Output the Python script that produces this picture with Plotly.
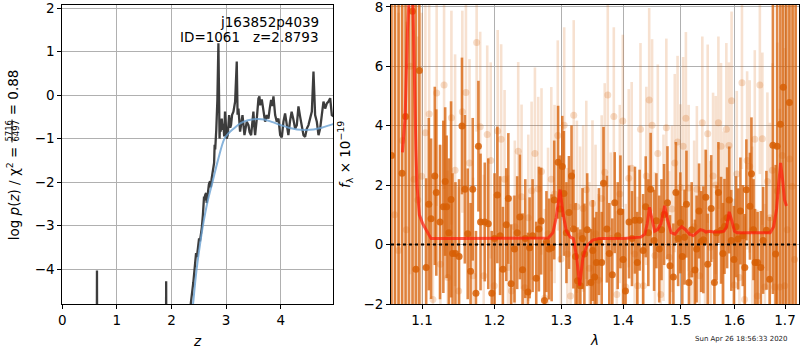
import plotly.graph_objects as go

FONT = "DejaVu Sans"

# ---------------- left panel: redshift probability ----------------
z_pz = [0.0, 0.628, 0.635, 0.642, 1.895, 1.902, 1.909, 2.30, 2.352, 2.40,
        2.43, 2.45, 2.465, 2.48, 2.505, 2.52, 2.535, 2.555, 2.575, 2.596,
        2.605, 2.615, 2.633, 2.645, 2.66, 2.685, 2.706, 2.72, 2.735, 2.76,
        2.78, 2.79, 2.80, 2.82, 2.84, 2.859, 2.87, 2.88, 2.89, 2.90,
        2.92, 2.935, 2.95, 2.965, 2.98, 2.995, 3.01, 3.03, 3.055, 3.075,
        3.09, 3.11, 3.134, 3.165, 3.195, 3.21, 3.226, 3.256, 3.28, 3.30,
        3.336, 3.36, 3.378, 3.409, 3.43, 3.458, 3.48, 3.50, 3.515, 3.531,
        3.562, 3.592, 3.61, 3.623, 3.653, 3.684, 3.714, 3.745, 3.775, 3.80,
        3.824, 3.845, 3.867, 3.898, 3.928, 3.959, 3.99, 4.02, 4.05, 4.08,
        4.11, 4.14, 4.17, 4.20, 4.23, 4.264, 4.295, 4.325, 4.356, 4.386,
        4.417, 4.447, 4.478, 4.508, 4.539, 4.57, 4.60, 4.63, 4.661, 4.692,
        4.722, 4.753, 4.783, 4.814, 4.845, 4.875, 4.906, 4.936, 4.967]
logp_pz = [-8, -8, -4.03, -8, -8, -4.28, -8, -8, -4.8, -4.3,
           -3.86, -3.63, -3.72, -3.55, -3.29, -3.36, -3.25, -3.05, -2.75, -2.33,
           -2.42, -2.30, -2.25, -2.48, -2.3, -2.05, -1.98, -2.12, -1.92, -1.72,
           -1.56, -1.14, -1.25, -0.8, -0.11, 1.19, -0.45, -1.0, -0.6, -0.84,
           -0.54, -0.8, -0.66, -0.95, -0.38, -0.7, -1.0, -0.92, -0.46, -0.75,
           -0.69, -0.45, -0.38, -0.15, 0.77, -0.45, -0.31, -0.84, -0.55, -0.46,
           -0.92, -0.7, -0.61, -0.69, -0.85, -0.92, -0.6, -0.38, -0.7, -0.92,
           -0.54, -0.08, -0.03, -0.23, -0.1, -0.38, -0.61, -0.46, -0.54, -0.3,
           -0.11, -0.25, -0.03, -0.46, -0.61, -0.54, -0.92, -0.97, -0.61, -0.42,
           -0.69, -0.92, -0.6, -0.38, -0.55, -0.77, -0.69, -0.26, -0.5, -0.73,
           -0.92, -0.96, -0.77, -0.69, -0.54, -0.38, 0.54, -0.46, -0.61, -0.92,
           -0.77, -0.46, -0.15, -0.31, -0.19, -0.15, -0.07, -0.46, -0.49]

z_fit = [2.30, 2.395, 2.46, 2.52, 2.575, 2.66, 2.75, 2.85, 2.97, 3.05,
         3.13, 3.26, 3.40, 3.55, 3.70, 3.85, 4.00, 4.15, 4.30, 4.45,
         4.60, 4.75, 4.90, 4.97]
logp_fit = [-6.2, -4.8, -4.0, -3.45, -3.0, -2.45, -2.0, -1.5, -1.0, -0.87,
            -0.78, -0.65, -0.58, -0.55, -0.56, -0.62, -0.69, -0.75, -0.79, -0.80,
            -0.79, -0.75, -0.69, -0.66]

# ---------------- right panel: grism spectrum ----------------
lam_a = [1.0605, 1.065, 1.0695, 1.074, 1.0785, 1.083, 1.0875, 1.092, 1.0965, 1.1055,
         1.109, 1.112, 1.117, 1.119, 1.124, 1.1285, 1.131, 1.133, 1.136, 1.139,
         1.141, 1.145, 1.150, 1.154, 1.158, 1.162, 1.166, 1.169, 1.1735, 1.177,
         1.180, 1.186, 1.191, 1.196, 1.200, 1.204, 1.208, 1.212, 1.217, 1.220,
         1.224, 1.229, 1.233, 1.237, 1.241, 1.245, 1.249, 1.2515, 1.256, 1.2615,
         1.2655, 1.269, 1.274, 1.277, 1.281, 1.285, 1.289, 1.295, 1.298, 1.3015,
         1.304, 1.308, 1.312, 1.316, 1.319, 1.3225, 1.3255, 1.330, 1.3335, 1.3365,
         1.341, 1.347, 1.350, 1.353, 1.356, 1.360, 1.3645, 1.3675, 1.373, 1.377,
         1.382, 1.386, 1.391, 1.3955, 1.400, 1.404, 1.410, 1.415, 1.420, 1.424,
         1.428, 1.434, 1.4385, 1.443, 1.447, 1.453, 1.457, 1.462, 1.466, 1.4705,
         1.4765, 1.481, 1.487, 1.4915, 1.4955, 1.4995, 1.503, 1.507, 1.5105, 1.515,
         1.520, 1.526, 1.529, 1.5335, 1.5375, 1.5415, 1.546, 1.5495, 1.556, 1.562,
         1.566, 1.5695, 1.5745, 1.578, 1.581, 1.586, 1.590, 1.594, 1.599, 1.603,
         1.607, 1.6115, 1.616, 1.620, 1.623, 1.630, 1.633, 1.637, 1.640, 1.645,
         1.6515, 1.656, 1.6625, 1.669, 1.6755, 1.681, 1.684, 1.6905, 1.6965, 1.7025,
         1.709, 1.7155, 1.722]
flux_a = [3.0, -3.0, 11.0, 2.4, 4.31, -4.0, 7.85, -0.83, 5.86, -0.77,
          1.36, 0.87, 2.31, 1.75, 0.76, 1.27, 2.12, 1.27, 0.4, 1.52,
          -0.3, -0.3, -0.4, 3.99, 1.86, 0.36, -0.9, 1.86, -1.64, 3.31,
          0.76, 0.76, 0.70, -1.64, 0.2, 1.67, 0.3, -0.83, 0.67, 1.55,
          -1.32, -0.15, 0.4, 0.93, -0.85, 0.2, -1.6, -0.11, 0.3, -1.13,
          0.52, 0.79, -1.88, 0.1, -0.15, -0.11, 1.5, 2.77, 1.2, 2.63,
          1.72, 0.4, 1.08, 2.31, 0.52, -0.4, -1.22, -1.39, 0.2, -0.32,
          0.5, -1.28, -0.2, -1.09, -0.6, 0.1, -0.6, 2.06, 0.52, -0.3,
          -1.02, 1.41, 0.3, 1.1, -0.5, -1.56, 0.76, 0.2, 0.82, -0.6,
          0.82, -0.2, 1.27, 0.4, 1.86, 0.14, 0.8, -0.15, 0.5, 1.01,
          1.41, -0.71, -1.09, 1.75, 0.2, 0.73, -0.4, 0.25, 1.36, -1.28,
          0.5, -0.86, -0.15, 1.13, 0.1, 0.16, 1.59, -0.66, 1.21, -1.28,
          0.4, 1.75, 0.48, -0.3, 0.61, 0.9, 1.5, 0.14, -0.5, 0.6,
          0.19, 1.13, 0.3, -0.77, 1.84, 1.29, 2.38, 0.5, -0.6, -0.6,
          -0.77, 0.14, 0.48, -1.17, 3.34, -0.32, 3.31, 4.05, 5.29, -3.5,
          4.78, 9.0, -3.0]
err_a = [14, 14, 14, 13, 12, 12, 11, 10, 9, 3.0,
         2.9, 2.7, 3.0, 2.8, 2.6, 2.9, 2.5, 2.4, 2.5, 3.3,
         2.7, 2.4, 2.6, 2.3, 2.5, 2.2, 2.3, 2.4, 2.1, 2.2,
         2.3, 2.0, 2.2, 2.1, 2.2, 2.3, 2.0, 2.1, 1.9, 2.2,
         2.0, 1.8, 1.9, 2.1, 1.9, 2.0, 2.0, 1.7, 1.9, 1.9,
         2.1, 1.8, 2.0, 1.7, 1.7, 1.8, 2.0, 1.9, 1.8, 1.7,
         2.1, 1.7, 1.9, 1.7, 2.0, 1.8, 1.8, 1.9, 1.7, 1.7,
         1.9, 1.8, 1.7, 2.0, 1.7, 1.8, 1.7, 1.9, 1.8, 1.7,
         1.9, 1.7, 1.8, 1.9, 1.7, 1.8, 1.9, 1.6, 1.8, 1.7,
         1.7, 1.9, 1.7, 1.8, 1.9, 1.7, 1.6, 1.8, 1.7, 1.7,
         1.9, 1.7, 1.8, 1.7, 1.6, 1.7, 1.7, 1.6, 1.8, 1.7,
         1.6, 1.7, 1.8, 1.6, 1.7, 1.8, 1.6, 1.7, 1.8, 1.7,
         1.6, 1.7, 1.8, 1.7, 1.6, 1.7, 1.8, 1.7, 1.8, 1.7,
         1.7, 1.8, 1.7, 1.8, 1.7, 1.8, 1.9, 1.7, 1.8, 1.7,
         1.9, 1.8, 2.0, 2.1, 5.0, 3.0, 6.0, 12, 13, 14,
         14, 14, 14]

lam_b = [1.0645, 1.0695, 1.0745, 1.0795, 1.0845, 1.0895, 1.0945, 1.0995, 1.1045, 1.1095,
         1.1145, 1.1195, 1.1245, 1.1295, 1.1345, 1.1395, 1.1445, 1.1495, 1.1545, 1.1595,
         1.1645, 1.1695, 1.1745, 1.1795, 1.1845, 1.1895, 1.1945, 1.1995, 1.2045, 1.2095,
         1.2145, 1.2195, 1.2245, 1.2295, 1.2345, 1.2395, 1.2445, 1.2495, 1.2545, 1.2595,
         1.2645, 1.2695, 1.2745, 1.2795, 1.2845, 1.2895, 1.2945, 1.2995, 1.3045, 1.3095,
         1.3145, 1.3195, 1.3245, 1.3295, 1.3345, 1.3395, 1.3445, 1.3495, 1.3545, 1.3595,
         1.3645, 1.3695, 1.3745, 1.3795, 1.3845, 1.3895, 1.3945, 1.3995, 1.4045, 1.4095,
         1.4145, 1.4195, 1.4245, 1.4295, 1.4345, 1.4395, 1.4445, 1.4495, 1.4545, 1.4595,
         1.4645, 1.4695, 1.4745, 1.4795, 1.4845, 1.4895, 1.4945, 1.4995, 1.5045, 1.5095,
         1.5145, 1.5195, 1.5245, 1.5295, 1.5345, 1.5395, 1.5445, 1.5495, 1.5545, 1.5595,
         1.5645, 1.5695, 1.5745, 1.5795, 1.5845, 1.5895, 1.5945, 1.5995, 1.6045, 1.6095,
         1.6145, 1.6195, 1.6245, 1.6295, 1.6345, 1.6395, 1.6445, 1.6495, 1.6545, 1.6595,
         1.6645, 1.6695, 1.6745, 1.6795, 1.6845, 1.6895, 1.6945, 1.6995, 1.7045, 1.7095,
         1.7145, 1.7195]
flux_b = [1.0, -0.2, 3.5, 0.5, 6.0, 2.2, 1.5, 2.3, 3.76, 4.39,
          -1.85, 5.1, -0.66, 5.37, -1.11, 4.27, 2.5, -1.56, 4.47, 5.12,
          2.74, -1.05, 6.8, 3.96, -1.05, 3.7, 2.83, -1.39, 3.82, 3.54,
          2.2, -0.77, -1.56, 0.6, 3.14, 1.61, -1.45, 0.9, 1.81, 3.06,
          1.87, 2.46, -1.8, 0.36, 2.2, 1.7, 3.67, -0.49, 4.01, -0.32,
          -1.73, 4.35, 1.27, 0.3, 1.21, 1.84, -0.8, 1.38, 0.36, -1.2,
          1.55, 2.43, 5.03, 0.2, 4.31, -1.68, 1.7, 4.16, -1.43, 2.23,
          2.57, -0.32, -1.39, 3.88, -1.39, 2.31, 4.86, 4.01, -0.37, 3.06,
          -1.68, 0.9, 3.93, -0.43, 1.2, 2.74, 3.45, 1.92, 3.31, 4.25,
          1.9, -1.0, 0.6, 1.86, -1.05, 4.1, 0.4, 3.73, -0.09, 2.31,
          2.0, 4.1, 3.31, 0.8, 3.88, 3.33, 4.84, -1.36, 2.37, -1.11,
          5.44, -1.85, 2.83, 2.63, 0.5, 3.54, -1.73, 5.37, 3.56, -1.43,
          2.12, 0.9, 2.5, -1.43, 1.8, -1.43, 3.0, -1.39, 0.5, 2.88,
          1.95, -0.5]
err_b = [9, 8, 8, 7, 7, 6, 5.5, 5.5, 4.6, 4.0,
         4.2, 3.8, 4.0, 3.5, 3.6, 3.6, 3.9, 3.5, 3.4, 3.2,
         3.5, 3.3, 3.0, 3.2, 3.4, 3.0, 3.3, 3.1, 3.4, 3.2,
         3.0, 3.1, 3.2, 2.9, 3.0, 3.1, 3.0, 2.8, 3.0, 2.9,
         3.1, 2.8, 3.0, 2.9, 3.1, 3.0, 3.2, 3.0, 3.3, 2.9,
         3.1, 3.2, 2.9, 3.0, 2.8, 3.0, 2.9, 2.8, 3.0, 2.9,
         2.8, 3.0, 3.1, 2.9, 3.0, 2.8, 3.0, 2.9, 2.8, 3.0,
         2.9, 2.8, 3.0, 2.9, 2.8, 3.0, 3.1, 2.9, 2.8, 3.0,
         2.9, 2.8, 3.0, 2.9, 2.8, 3.0, 2.9, 2.8, 3.0, 2.9,
         2.8, 3.0, 2.9, 2.8, 3.0, 2.9, 2.8, 3.0, 2.9, 2.8,
         3.0, 2.9, 2.8, 3.0, 2.9, 2.8, 3.0, 2.9, 2.8, 3.0,
         2.9, 2.8, 3.0, 2.9, 2.8, 3.0, 2.9, 3.0, 2.9, 2.8,
         3.0, 3.2, 3.6, 4.0, 5.0, 6.0, 7.0, 8.0, 8.0, 9.0,
         9.0, 9.0]

lam_model = [1.0745, 1.078, 1.081, 1.0835, 1.0855, 1.088, 1.0895, 1.092, 1.0935, 1.0965,
             1.101, 1.108, 1.112, 1.15, 1.2, 1.25, 1.28, 1.287, 1.292, 1.298,
             1.303, 1.308, 1.314, 1.319, 1.324, 1.329, 1.334, 1.34, 1.35, 1.36,
             1.40, 1.43, 1.437, 1.441, 1.445, 1.449, 1.454, 1.459, 1.465, 1.4715,
             1.477, 1.483, 1.49, 1.496, 1.502, 1.509, 1.516, 1.523, 1.53, 1.536,
             1.541, 1.546, 1.553, 1.56, 1.57, 1.58, 1.585, 1.59, 1.595, 1.60,
             1.605, 1.62, 1.64, 1.66, 1.67, 1.677, 1.683, 1.687, 1.691, 1.695,
             1.699, 1.703]
flux_model = [3.1, 4.3, 7.2, 8.5, 9.5, 8.2, 6.0, 3.2, 1.95, 1.0,
              0.7, 0.36, 0.2, 0.2, 0.2, 0.2, 0.22, 0.4, 0.9, 1.85,
              1.0, 0.45, 0.25, 0.2, -0.4, -1.38, -0.45, -0.05, 0.15, 0.2,
              0.2, 0.25, 0.35, 0.7, 1.25, 0.9, 0.45, 0.5, 0.7, 1.3,
              0.8, 0.4, 0.35, 0.5, 0.6, 0.5, 0.35, 0.3, 0.4, 0.5,
              0.48, 0.42, 0.45, 0.42, 0.42, 0.45, 0.6, 1.1, 0.8, 0.45,
              0.4, 0.4, 0.4, 0.4, 0.4, 0.6, 1.2, 2.0, 2.75, 2.2,
              1.5, 1.3]

assert len(z_pz) == len(logp_pz) and len(z_fit) == len(logp_fit)
assert len(lam_a) == len(flux_a) == len(err_a)
assert len(lam_b) == len(flux_b) == len(err_b)
assert len(lam_model) == len(flux_model)

z_ticks = [0, 1, 2, 3, 4]
logp_ticks = [-4, -3, -2, -1, 0, 1, 2]
lam_ticks = [1.1, 1.2, 1.3, 1.4, 1.5, 1.6, 1.7]
flux_ticks = [-2, 0, 2, 4, 6, 8]


def fmt(v):
    s = f"{v:g}"
    return s.replace("-", "\u2212")


W, H = 800, 350


def px(x):
    return x / W


def py(y):
    return 1 - y / H


ORANGE = "215,95,5"

fig = go.Figure()

# p(z) and its smooth prior/fit
fig.add_trace(go.Scatter(x=z_pz, y=logp_pz, mode="lines",
                         line=dict(color="rgba(45,45,45,0.92)", width=2.3),
                         xaxis="x", yaxis="y", showlegend=False, hoverinfo="skip"))
fig.add_trace(go.Scatter(x=z_fit, y=logp_fit, mode="lines",
                         line=dict(color="rgba(105,160,210,0.8)", width=2, shape="spline"),
                         xaxis="x", yaxis="y", showlegend=False, hoverinfo="skip"))

# spectrum: faint beam then strong beam
fig.add_trace(go.Scatter(x=lam_b, y=flux_b, mode="markers",
                         marker=dict(color=f"rgba({ORANGE},0.22)", size=7, line=dict(width=0)),
                         error_y=dict(type="data", array=err_b, visible=True, thickness=2.6,
                                      width=0, color=f"rgba({ORANGE},0.19)"),
                         xaxis="x2", yaxis="y2", showlegend=False, hoverinfo="skip"))
fig.add_trace(go.Scatter(x=lam_a, y=flux_a, mode="markers",
                         marker=dict(color=f"rgba({ORANGE},0.85)", size=7, line=dict(width=0)),
                         error_y=dict(type="data", array=err_a, visible=True, thickness=2.6,
                                      width=0, color=f"rgba({ORANGE},0.75)"),
                         xaxis="x2", yaxis="y2", showlegend=False, hoverinfo="skip"))
fig.add_trace(go.Scatter(x=lam_model, y=flux_model, mode="lines",
                         line=dict(color="rgba(255,25,10,0.7)", width=3),
                         xaxis="x2", yaxis="y2", showlegend=False, hoverinfo="skip"))

axis_common = dict(showgrid=True, gridcolor="#b0b0b0", gridwidth=1, zeroline=False,
                   showline=True, mirror=True, linecolor="black", linewidth=1,
                   ticks="outside", ticklen=4, tickwidth=1, tickcolor="black",
                   tickfont=dict(family=FONT, size=13.5, color="black"),
                   ticklabeloverflow="allow", automargin=False, fixedrange=True)

fig.update_layout(
    width=W, height=H, template="none",
    margin=dict(l=0, r=0, t=0, b=0),
    paper_bgcolor="white", plot_bgcolor="white",
    font=dict(family=FONT, size=13.5, color="black"),
    xaxis=dict(domain=[px(62.3), px(333.3)], range=[0, 4.963], anchor="y",
               tickvals=z_ticks, ticktext=[fmt(v) for v in z_ticks], **axis_common),
    yaxis=dict(domain=[py(304), py(5)], range=[-4.80, 2.07], anchor="x",
               tickvals=logp_ticks, ticktext=[fmt(v) for v in logp_ticks], **axis_common),
    xaxis2=dict(domain=[px(391), px(799)], type="log", range=[0.025244, 0.23774], anchor="y2",
                tickvals=lam_ticks, ticktext=[fmt(v) for v in lam_ticks], **axis_common),
    yaxis2=dict(domain=[py(304), py(5)], range=[-2.0, 8.06], anchor="x2",
                tickvals=flux_ticks, ticktext=[fmt(v) for v in flux_ticks], **axis_common),
)

# zero-flux reference
fig.add_shape(type="line", xref="x2 domain", yref="y2", x0=0, x1=1, y0=0, y1=0,
              line=dict(color="black", width=2, dash="dot"), layer="above")

txt = dict(family=FONT, size=13.5, color="black")
ann = [
    dict(text="j163852p4039", x=px(319.5), y=py(22), xanchor="right", yanchor="middle", font=txt),
    dict(text="ID=1061\u00a0\u00a0\u00a0z=2.8793", x=px(319.5), y=py(36.5),
         xanchor="right", yanchor="middle", font=txt),
    dict(text="<i>z</i>", x=px(197.5), y=py(340.5), xanchor="center", yanchor="middle", font=txt),
    dict(text="<i>λ</i>", x=px(594), y=py(340), xanchor="center", yanchor="middle", font=txt),
    dict(text="Sun Apr 26 18:56:33 2020", x=px(788.5), y=py(339), xanchor="right",
         yanchor="middle", font=dict(family=FONT, size=7, color="#222")),
    dict(text="<i>f</i><sub>λ</sub> × 10<sup>\u221219</sup>", x=px(345), y=py(155),
         xanchor="center", yanchor="middle", textangle=-90, font=txt),
    dict(text="log <i>p</i>(<i>z</i>) / χ<sup>2</sup> =", x=px(13.3), y=py(241),
         xanchor="center", yanchor="bottom", textangle=-90, font=txt),
    dict(text="5716", x=px(8.6), y=py(131), xanchor="center", yanchor="middle",
         textangle=-90, font=dict(family=FONT, size=8.5, color="black")),
    dict(text="6497", x=px(15.6), y=py(131), xanchor="center", yanchor="middle",
         textangle=-90, font=dict(family=FONT, size=8.5, color="black")),
    dict(text="= 0.88", x=px(13.3), y=py(68), xanchor="center", yanchor="top",
         textangle=-90, font=txt),
]
for a in ann:
    fig.add_annotation(xref="paper", yref="paper", showarrow=False, borderpad=0, **a)

# fraction bar
fig.add_shape(type="line", xref="paper", yref="paper", x0=px(12), x1=px(12),
              y0=py(119.5), y1=py(142.5), line=dict(color="black", width=0.9))

fig.write_html("out.html")
